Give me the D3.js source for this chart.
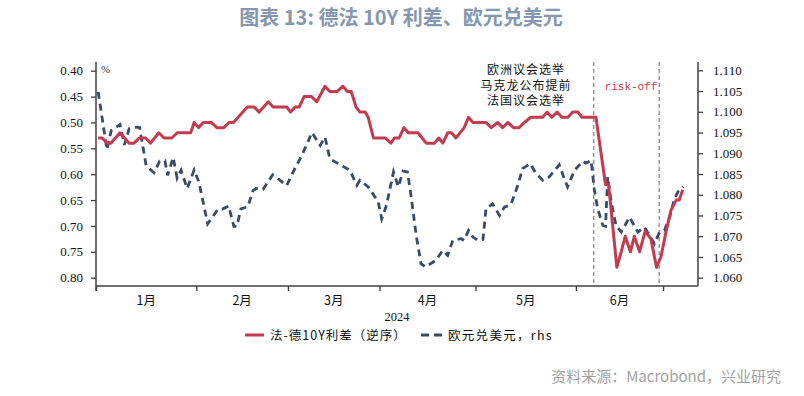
<!DOCTYPE html>
<html><head><meta charset="utf-8">
<script src="https://cdn.jsdelivr.net/npm/d3@7/dist/d3.min.js"></script>
<style>
html,body{margin:0;padding:0;background:#fff;}
svg{display:block;}
</style></head>
<body>
<svg id="chart" width="804" height="396"></svg>
<script>
// ---- data (x = business-day index since 2 Jan 2024) ----
const months = ["1月","2月","3月","4月","5月","6月"];
const monthStart = [0,23,44,65,87,110,130];
const yearLabel = "2024";
const leftTicks = [0.40,0.45,0.50,0.55,0.60,0.65,0.70,0.75,0.80];
const rightTicks = [1.060,1.065,1.070,1.075,1.080,1.085,1.090,1.095,1.100,1.105,1.110];
const eventDay = [114.1, 129.1];

const spreadDay = [0.5,1.4,2.6,3.4,5.5,7.6,8.7,9.9,11.4,12.5,14.4,15.6,17.4,18.6,21.7,22.5,23.5,24.6,26.4,27.7,29.3,30.5,31.5,34.7,36.2,37.4,39.5,40.6,43.7,44.6,45.6,46.6,47.7,49.4,50.6,52.5,53.6,55.3,56.6,57.6,58.5,59.6,60.5,61.7,62.4,63.6,66.3,67.6,68.4,69.5,70.6,71.6,73.8,75.7,77.6,78.6,79.5,80.6,81.5,82.5,84.4,85.4,86.4,89.4,90.6,92.1,93.2,94.4,95.7,97.0,98.2,99.7,102.4,103.4,104.5,105.7,106.8,108.2,109.3,110.5,111.4,114.6,116.8,117.5,119.4,120.4,121.3,122.5,123.4,124.6,125.9,127.2,128.5,129.5,130.7,131.8,133.0,133.7,134.5];
const spreadVal = [0.53,0.53,0.54,0.54,0.52,0.54,0.54,0.53,0.53,0.54,0.52,0.53,0.53,0.52,0.52,0.50,0.51,0.50,0.50,0.51,0.51,0.50,0.50,0.47,0.47,0.48,0.46,0.47,0.47,0.48,0.47,0.47,0.45,0.45,0.46,0.43,0.44,0.44,0.43,0.44,0.44,0.47,0.48,0.48,0.49,0.53,0.53,0.54,0.53,0.53,0.51,0.52,0.52,0.54,0.54,0.53,0.54,0.52,0.52,0.53,0.51,0.49,0.50,0.50,0.51,0.50,0.51,0.50,0.51,0.51,0.50,0.49,0.49,0.48,0.49,0.48,0.49,0.49,0.48,0.48,0.49,0.49,0.62,0.62,0.78,0.75,0.72,0.75,0.72,0.75,0.71,0.725,0.78,0.76,0.71,0.67,0.65,0.65,0.63];

const fxDay = [0.5,2.5,3.5,5.5,6.5,7.6,9.2,10.0,11.5,13.3,14.6,15.8,16.4,17.7,18.6,19.5,20.9,22.5,23.6,25.6,27.9,29.1,30.4,31.6,32.3,33.2,34.8,36.0,36.7,38.3,40.5,41.8,43.7,45.2,47.2,49.5,51.4,52.5,53.6,55.5,58.2,59.8,60.5,62.4,64.7,65.5,66.6,68.2,69.3,70.4,71.4,72.2,73.4,74.5,75.5,77.9,79.5,80.6,81.8,83.7,84.4,85.4,86.4,87.5,88.7,89.4,90.9,92.5,93.6,95.1,96.7,97.8,99.5,100.9,102.4,103.9,106.2,107.2,108.1,109.7,111.6,112.3,113.5,114.2,115.0,116.2,116.8,117.3,118.1,119.2,120.4,122.3,124.2,125.7,126.9,128.0,129.2,130.3,131.5,132.6,133.4,134.6];
const fxVal = [1.1048,1.0909,1.0955,1.0969,1.0920,1.0959,1.0963,1.0962,1.0870,1.0853,1.0881,1.0882,1.0847,1.0890,1.0840,1.0859,1.0815,1.0860,1.0830,1.0730,1.0764,1.0766,1.0773,1.0724,1.0724,1.0766,1.0771,1.0810,1.0815,1.0813,1.0848,1.0838,1.0822,1.0855,1.0895,1.0950,1.0919,1.0939,1.0887,1.0875,1.0859,1.0823,1.0835,1.0819,1.0783,1.0742,1.0775,1.0855,1.0819,1.0857,1.0855,1.0799,1.0702,1.0634,1.0626,1.0642,1.0666,1.0654,1.0690,1.0694,1.0690,1.0714,1.0698,1.0690,1.0692,1.0766,1.0778,1.0750,1.0770,1.0776,1.0823,1.0863,1.0875,1.0851,1.0835,1.0843,1.0872,1.0843,1.0819,1.0859,1.0881,1.0876,1.0883,1.0815,1.0766,1.0726,1.0724,1.0843,1.0783,1.0726,1.0710,1.0746,1.0710,1.0722,1.0702,1.0682,1.0710,1.0714,1.0746,1.0790,1.0807,1.0820];

const spreadName = "法-德10Y利差（逆序）";
const fxName = "欧元兑美元，rhs";
const title = "图表 13: 德法 10Y 利差、欧元兑美元";
const source = "资料来源：Macrobond，兴业研究";
const eventLines = ["欧洲议会选举","马克龙公布提前","法国议会选举"];
const riskLabel = "risk-off";

// ---- drawing ----
const svg = d3.select("#chart");
const L = 96, R = 698, T = 62, B = 286;
const RED = "#c23b4f", NAVY = "#3b4a68", AX = "#404040";
const serif = "'Liberation Serif','DejaVu Serif',serif";
const cjk = "'Noto Sans CJK SC','Noto Sans',sans-serif";

const x = d3.scaleLinear().domain([0,138]).range([L,R]);
const yL = d3.scaleLinear().domain([0.40,0.80]).range([70.7,277.7]);
const yR = d3.scaleLinear().domain([1.110,1.060]).range([70.3,277.7]);

// title
svg.append("text").attr("x",401).attr("y",25).attr("text-anchor","middle")
  .attr("font-family",cjk).attr("font-size",20).attr("font-weight","bold")
  .attr("fill","#8597b1").text(title);

// event lines
svg.selectAll(".ev").data(eventDay).enter().append("line")
  .attr("x1",d=>x(d)).attr("x2",d=>x(d)).attr("y1",T).attr("y2",B)
  .attr("stroke","#8a8a8a").attr("stroke-width",1.3).attr("stroke-dasharray","4,3");

// axes
const gl = svg.append("g").attr("transform",`translate(${L},0)`)
  .call(d3.axisLeft(yL).tickValues(leftTicks).tickFormat(d3.format(".2f")).tickSize(5).tickPadding(8));
const gr = svg.append("g").attr("transform",`translate(${R},0)`)
  .call(d3.axisRight(yR).tickValues(rightTicks).tickFormat(d3.format(".3f")).tickSize(5).tickPadding(10));
const gx = svg.append("g").attr("transform",`translate(0,${B})`)
  .call(d3.axisBottom(x).tickValues(monthStart).tickFormat("").tickSize(5));
[gl,gr,gx].forEach(g=>{
  g.select(".domain").remove();
  g.selectAll(".tick line").attr("stroke",AX).attr("stroke-width",1.3);
  g.selectAll(".tick text").attr("font-family",serif).attr("font-size",13).attr("fill","#111");
});
svg.append("line").attr("x1",L).attr("x2",L).attr("y1",T).attr("y2",B+5).attr("stroke",AX).attr("stroke-width",1.5);
svg.append("line").attr("x1",R).attr("x2",R).attr("y1",T).attr("y2",B).attr("stroke",AX).attr("stroke-width",1.5);
svg.append("line").attr("x1",L).attr("x2",R).attr("y1",B).attr("y2",B).attr("stroke",AX).attr("stroke-width",1.5);

// month labels
svg.selectAll(".mon").data(months).enter().append("text")
  .attr("x",(d,i)=>x((monthStart[i]+monthStart[i+1])/2)).attr("y",305)
  .attr("text-anchor","middle").attr("font-family",cjk).attr("font-size",12.5).attr("fill","#111").text(d=>d);
svg.append("text").attr("x",(L+R)/2).attr("y",321).attr("text-anchor","middle")
  .attr("font-family",serif).attr("font-size",12.5).attr("fill","#111").text(yearLabel);

// % unit
svg.append("text").attr("x",101).attr("y",73).attr("font-family",serif).attr("font-size",11).attr("fill","#333").text("%");

// series
const fxLine = d3.line().x((d,i)=>x(fxDay[i])).y(d=>yR(d));
svg.append("path").datum(fxVal).attr("d",fxLine).attr("fill","none")
  .attr("stroke",NAVY).attr("stroke-width",2.8).attr("stroke-dasharray","7,5");
const spLine = d3.line().x((d,i)=>x(spreadDay[i])).y(d=>yL(d));
svg.append("path").datum(spreadVal).attr("d",spLine).attr("fill","none")
  .attr("stroke",RED).attr("stroke-width",3).attr("stroke-linejoin","round");

// annotations
svg.selectAll(".evt").data(eventLines).enter().append("text")
  .attr("x",526).attr("y",(d,i)=>74+i*15.5).attr("text-anchor","middle")
  .attr("font-family",cjk).attr("font-size",12).attr("letter-spacing",1).attr("fill","#111").text(d=>d);
svg.append("text").attr("x",631).attr("y",90).attr("text-anchor","middle")
  .attr("font-family","'Liberation Mono','DejaVu Sans Mono',monospace").attr("font-size",11)
  .attr("fill",RED).text(riskLabel);

// legend
const lg = svg.append("g");
lg.append("line").attr("x1",245).attr("x2",264).attr("y1",335).attr("y2",335).attr("stroke",RED).attr("stroke-width",3);
lg.append("text").attr("x",270).attr("y",340).attr("font-family",cjk).attr("font-size",12.5).attr("letter-spacing",1).attr("fill","#111").text(spreadName);
lg.append("line").attr("x1",421).attr("x2",445).attr("y1",335).attr("y2",335).attr("stroke",NAVY).attr("stroke-width",3).attr("stroke-dasharray","8,5");
lg.append("text").attr("x",448).attr("y",340).attr("font-family",cjk).attr("font-size",12.5).attr("letter-spacing",1.3).attr("fill","#111").text(fxName);

// source
svg.append("text").attr("x",781).attr("y",382).attr("text-anchor","end")
  .attr("font-family",cjk).attr("font-size",15).attr("fill","#a3a3a3").text(source);
</script>
</body></html>
